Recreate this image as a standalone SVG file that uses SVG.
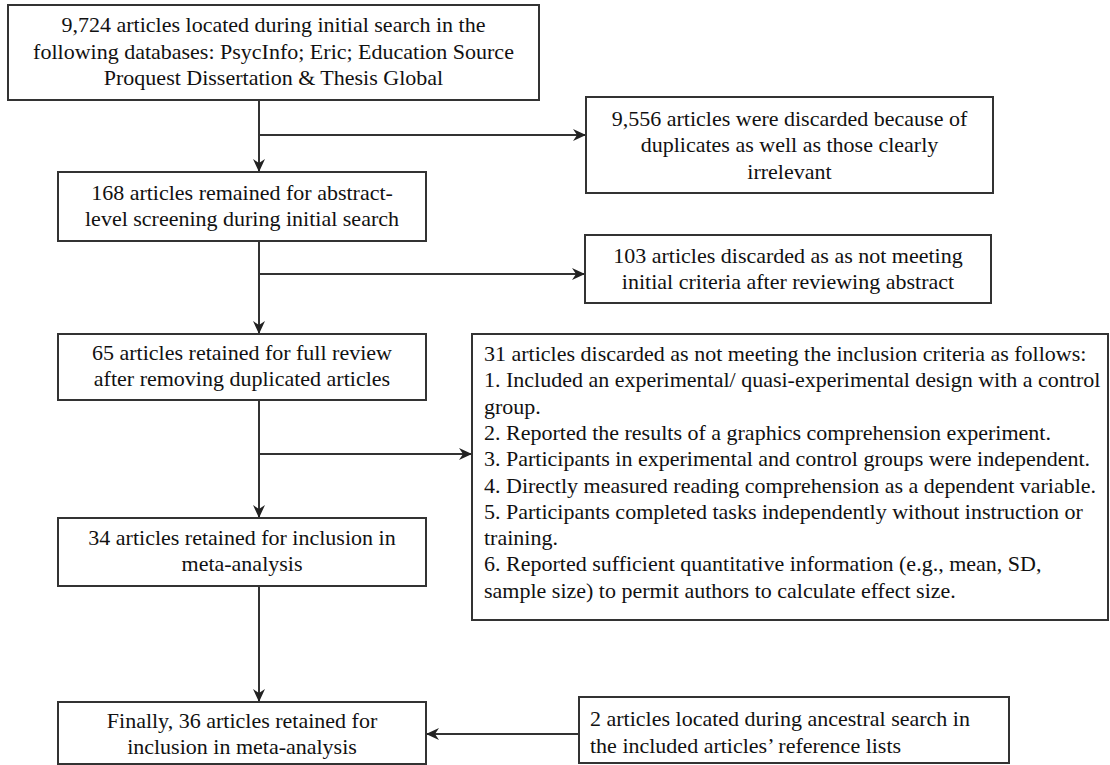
<svg xmlns="http://www.w3.org/2000/svg" width="1110" height="765" viewBox="0 0 1110 765">
<style>
.box{fill:#fff;stroke:#333;stroke-width:2}
.t{font-family:"Liberation Serif","Times New Roman",serif;font-size:22px;fill:#111}
.c{text-anchor:middle}
.ln{stroke:#333;stroke-width:2;fill:none;marker-end:url(#ah)}
</style>
<defs>
<marker id="ah" markerUnits="userSpaceOnUse" markerWidth="14" markerHeight="14" viewBox="0 0 14 14" refX="13" refY="7" orient="auto">
<path d="M0,1 L13,7 L0,13 L4,7 Z" fill="#222"/>
</marker>
</defs>
<rect width="1110" height="765" fill="#fff"/>
<g id="connectors">
<line class="ln" x1="259" y1="100" x2="259" y2="172"/>
<line class="ln" x1="259" y1="135" x2="586" y2="135"/>
<line class="ln" x1="259" y1="241" x2="259" y2="334"/>
<line class="ln" x1="259" y1="274" x2="585" y2="274"/>
<line class="ln" x1="259" y1="400" x2="259" y2="518"/>
<line class="ln" x1="259" y1="454" x2="472" y2="454"/>
<line class="ln" x1="259" y1="586" x2="259" y2="702"/>
<line class="ln" x1="579" y1="734" x2="426" y2="734"/>
</g>
<g id="n1">
<rect class="box" x="8" y="5" width="531" height="95"/>
<text class="t c" x="273.5" y="32">9,724 articles located during initial search in the</text>
<text class="t c" x="273.5" y="58.5">following databases: PsycInfo; Eric; Education Source</text>
<text class="t c" x="273.5" y="85">Proquest Dissertation &amp; Thesis Global</text>
</g>
<g id="n2">
<rect class="box" x="586" y="97" width="407" height="96"/>
<text class="t c" x="789.5" y="125.5">9,556 articles were discarded because of</text>
<text class="t c" x="789.5" y="152">duplicates as well as those clearly</text>
<text class="t c" x="789.5" y="178.5">irrelevant</text>
</g>
<g id="n3">
<rect class="box" x="58" y="172" width="368" height="69"/>
<text class="t c" x="242" y="200">168 articles remained for abstract-</text>
<text class="t c" x="242" y="226">level screening during initial search</text>
</g>
<g id="n4">
<rect class="box" x="585" y="235" width="406" height="68"/>
<text class="t c" x="788" y="263">103 articles discarded as as not meeting</text>
<text class="t c" x="788" y="289">initial criteria after reviewing abstract</text>
</g>
<g id="n5">
<rect class="box" x="58" y="334" width="368" height="66"/>
<text class="t c" x="242" y="360">65 articles retained for full review</text>
<text class="t c" x="242" y="386">after removing duplicated articles</text>
</g>
<g id="n6">
<rect class="box" x="472" y="334" width="636" height="286"/>
<text class="t" x="484" y="361">31 articles discarded as not meeting the inclusion criteria as follows:</text>
<text class="t" x="484" y="387.3">1. Included an experimental/ quasi-experimental design with a control</text>
<text class="t" x="484" y="413.6">group.</text>
<text class="t" x="484" y="439.9">2. Reported the results of a graphics comprehension experiment.</text>
<text class="t" x="484" y="466.2">3. Participants in experimental and control groups were independent.</text>
<text class="t" x="484" y="492.5">4. Directly measured reading comprehension as a dependent variable.</text>
<text class="t" x="484" y="518.8">5. Participants completed tasks independently without instruction or</text>
<text class="t" x="484" y="545.1">training.</text>
<text class="t" x="484" y="571.4">6. Reported sufficient quantitative information (e.g., mean, SD,</text>
<text class="t" x="484" y="597.7">sample size) to permit authors to calculate effect size.</text>
</g>
<g id="n7">
<rect class="box" x="58" y="518" width="368" height="68"/>
<text class="t c" x="242" y="545">34 articles retained for inclusion in</text>
<text class="t c" x="242" y="571">meta-analysis</text>
</g>
<g id="n8">
<rect class="box" x="58" y="702" width="368" height="62"/>
<text class="t c" x="242" y="728">Finally, 36 articles retained for</text>
<text class="t c" x="242" y="754">inclusion in meta-analysis</text>
</g>
<g id="n9">
<rect class="box" x="579" y="697" width="430" height="66"/>
<text class="t" x="590" y="726">2 articles located during ancestral search in</text>
<text class="t" x="590" y="753">the included articles’ reference lists</text>
</g>
</svg>
